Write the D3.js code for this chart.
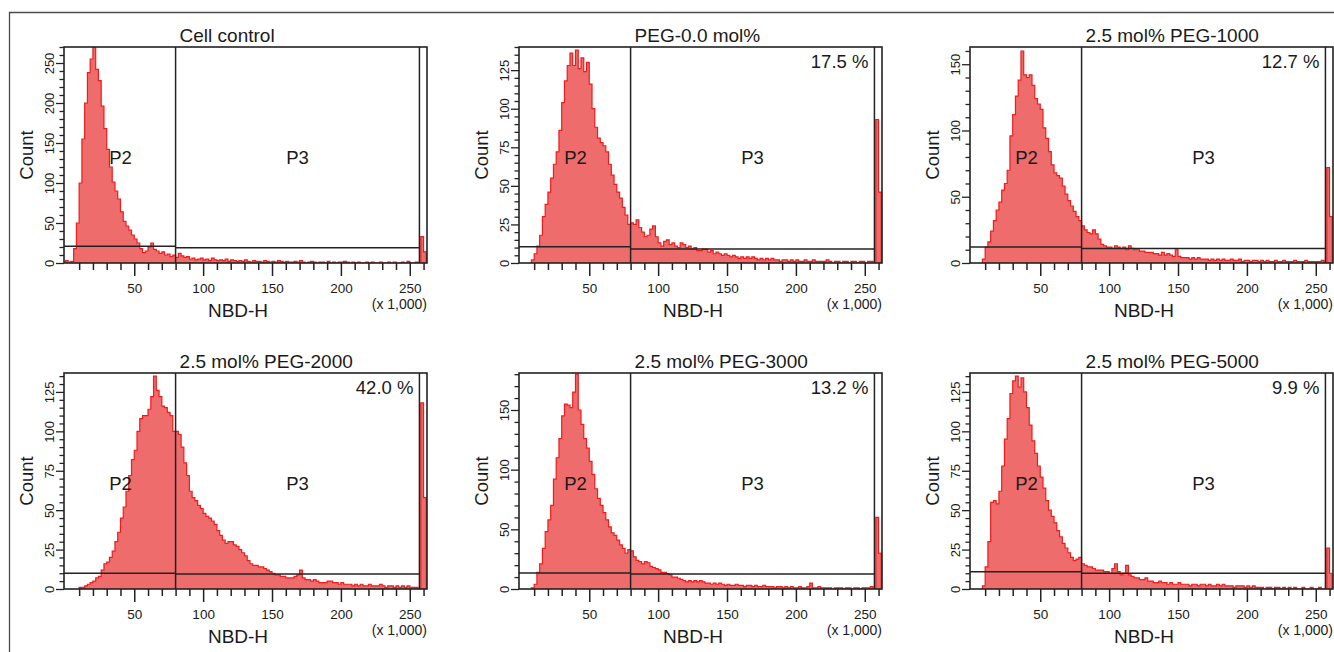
<!DOCTYPE html>
<html>
<head>
<meta charset="utf-8">
<script src="https://cdn.jsdelivr.net/npm/d3@7"></script>
<style>
body { margin: 0; background: #fff; }
text { font-family: "Liberation Sans", Arial, sans-serif; fill: #1a1a1a; }
</style>
</head>
<body>
<div class="chart"></div>
<script>
const width = 1334;
const height = 652;
const boxW = 363;
const boxH = 216;
const colX = [64, 519, 970];
const rowY = [47, 373];

const titles = ['Cell control', 'PEG-0.0 mol%', '2.5 mol% PEG-1000', '2.5 mol% PEG-2000', '2.5 mol% PEG-3000', '2.5 mol% PEG-5000'];
const p3Percent = ['', '17.5 %', '12.7 %', '42.0 %', '13.2 %', '9.9 %'];
const yMax = [270, 140, 163, 137, 181, 137];
const yMinor = [10, 5, 10, 5, 10, 5];
const yMajor = [50, 25, 50, 25, 50, 25];
const gateP2Level = [21, 10.5, 12, 10, 13.5, 11];
const gateP3Level = [19, 9, 11, 9.5, 12.5, 10];
const gateSplit = 80;   // x 1,000
const gateEnd = 257;
const xTicks = d3.range(10, 261, 10);
const binWidth = 2;     // x 1,000 per bin

// counts per 2k bin, NBD-H 0 .. 262k
const cellControl = [
    3, 1, 2, 18, 50, 100, 155, 200, 238, 255,
    270, 242, 228, 196, 168, 142, 120, 101, 90, 80,
    64, 52, 46, 41, 35, 30, 25, 18, 13, 15,
    20, 25, 17, 15, 12, 14, 10, 11, 8, 10,
    7, 12, 9, 7, 8, 5, 6, 4, 5, 6,
    4, 5, 3, 6, 4, 3, 4, 3, 5, 2,
    4, 3, 2, 3, 2, 4, 2, 1, 3, 2,
    2, 1, 3, 2, 1, 2, 1, 3, 2, 1,
    2, 1, 1, 2, 1, 3, 1, 0, 1, 2,
    1, 0, 1, 1, 0, 2, 0, 1, 0, 1,
    1, 2, 1, 0, 1, 0, 1, 0, 0, 1,
    0, 1, 0, 0, 1, 0, 0, 1, 0, 1,
    0, 0, 1, 0, 2, 0, 0, 1, 0, 33,
    14];
const peg00 = [
    0, 0, 0, 0, 2, 6, 11, 18, 30, 38,
    46, 55, 64, 72, 86, 104, 118, 128, 136, 128,
    138, 126, 133, 124, 130, 116, 100, 88, 81, 78,
    76, 72, 64, 57, 51, 46, 42, 36, 31, 25,
    26, 25, 28, 23, 20, 17, 18, 22, 24, 17,
    13, 11, 14, 15, 12, 13, 11, 10, 13, 12,
    10, 11, 9, 10, 8, 8, 9, 9, 7, 8,
    6, 7, 6, 5, 6, 5, 4, 5, 4, 3,
    4, 3, 4, 3, 4, 3, 2, 3, 2, 3,
    2, 3, 2, 2, 1, 2, 2, 1, 2, 1,
    2, 1, 1, 2, 1, 1, 2, 1, 1, 1,
    1, 2, 1, 0, 1, 1, 0, 1, 1, 0,
    1, 1, 0, 1, 1, 0, 1, 1, 0, 93,
    46];
const peg1000 = [
    0, 0, 0, 0, 3, 12, 16, 24, 32, 40,
    46, 55, 60, 70, 96, 112, 126, 138, 160, 142,
    140, 142, 134, 124, 120, 116, 102, 94, 84, 74,
    68, 66, 64, 58, 52, 47, 43, 39, 35, 32,
    28, 25, 23, 22, 25, 22, 18, 14, 13, 12,
    12, 11, 13, 12, 11, 12, 10, 13, 11, 10,
    10, 9, 9, 8, 8, 8, 7, 7, 6, 8,
    6, 7, 6, 5, 10, 5, 4, 4, 4, 3,
    4, 3, 4, 3, 3, 3, 2, 3, 2, 3,
    2, 3, 2, 2, 3, 2, 2, 3, 1, 2,
    2, 1, 2, 2, 1, 2, 1, 2, 1, 1,
    2, 1, 1, 2, 1, 1, 1, 2, 1, 1,
    1, 2, 1, 1, 1, 1, 1, 2, 0, 72,
    35];
const peg2000 = [
    0, 0, 0, 0, 0, 1, 1, 2, 3, 4,
    5, 7, 8, 12, 16, 17, 20, 24, 30, 36,
    45, 52, 62, 72, 82, 88, 100, 108, 110, 110,
    114, 122, 135, 126, 122, 116, 115, 112, 110, 100,
    100, 98, 90, 80, 72, 62, 58, 56, 53, 51,
    48, 46, 45, 43, 41, 37, 34, 31, 29, 30,
    30, 28, 27, 25, 23, 21, 18, 16, 15, 15,
    14, 14, 13, 12, 11, 10, 9, 9, 8, 8,
    7, 7, 7, 8, 9, 12, 7, 6, 6, 5,
    6, 5, 4, 4, 4, 5, 5, 4, 4, 3,
    4, 3, 3, 3, 2, 3, 2, 3, 2, 2,
    3, 2, 2, 2, 3, 2, 1, 2, 2, 1,
    2, 1, 2, 1, 2, 1, 1, 1, 0, 118,
    58];
const peg3000 = [
    0, 0, 0, 0, 1, 4, 14, 21, 34, 48,
    58, 70, 92, 110, 126, 145, 155, 154, 152, 165,
    180, 150, 138, 126, 118, 107, 96, 84, 76, 70,
    64, 58, 52, 47, 45, 41, 37, 34, 30, 33,
    32, 27, 24, 23, 21, 23, 22, 19, 18, 17,
    16, 14, 14, 13, 12, 10, 10, 9, 8, 7,
    6, 7, 6, 7, 6, 7, 6, 5, 5, 4,
    5, 4, 5, 4, 3, 4, 3, 3, 4, 3,
    3, 2, 3, 3, 2, 3, 2, 2, 3, 2,
    2, 2, 1, 2, 2, 1, 2, 1, 2, 1,
    1, 2, 1, 1, 2, 5, 1, 1, 2, 1,
    1, 1, 1, 0, 1, 1, 1, 0, 1, 1,
    0, 1, 1, 0, 1, 1, 1, 2, 0, 60,
    30];
const peg5000 = [
    0, 0, 0, 0, 2, 14, 30, 55, 56, 54,
    62, 78, 95, 108, 124, 132, 135, 128, 134, 125,
    115, 104, 94, 86, 78, 71, 64, 56, 50, 46,
    42, 37, 33, 29, 26, 23, 20, 18, 19, 20,
    16, 15, 14, 14, 13, 12, 12, 12, 11, 11,
    10, 13, 16, 11, 9, 10, 15, 9, 8, 7,
    7, 6, 6, 7, 5, 5, 4, 4, 5, 4,
    4, 3, 4, 3, 3, 4, 3, 3, 3, 2,
    3, 3, 2, 3, 3, 2, 3, 2, 2, 3,
    2, 3, 2, 2, 2, 1, 2, 2, 2, 1,
    2, 1, 2, 1, 1, 1, 0, 1, 1, 0,
    1, 1, 0, 1, 0, 1, 0, 1, 0, 0,
    1, 0, 0, 1, 0, 0, 1, 0, 0, 26,
    10];
const counts = [cellControl, peg00, peg1000, peg2000, peg3000, peg5000];

const svg = d3.select('.chart').append('svg')
    .attr('width', width)
    .attr('height', height);

// outer frame of the figure
svg.append('path')
    .attr('d', 'M9.5,652V12.5H1334')
    .attr('fill', 'none')
    .attr('stroke', '#4a4a4a')
    .attr('stroke-width', 1.3);

titles.forEach((title, i) => {
    const g = svg.append('g')
        .attr('transform', `translate(${colX[i % 3]}, ${rowY[Math.floor(i / 3)]})`);
    const x = d3.scaleLinear().domain([-1, 262.5]).range([0, boxW]);
    const y = d3.scaleLinear().domain([0, yMax[i]]).range([boxH, 0]);

    g.append('clipPath').attr('id', 'clip' + i)
        .append('rect').attr('width', boxW).attr('height', boxH);

    /* histogram */
    const data = counts[i];
    const first = data.findIndex(v => v > 0);
    const pts = [[first * binWidth, 0]]
        .concat(data.slice(first).map((v, j) => [(first + j) * binWidth, v]));
    pts.push([data.length * binWidth, 0]);

    const area = d3.area()
        .x(d => x(d[0]))
        .y0(y(0))
        .y1(d => y(d[1]))
        .curve(d3.curveStepAfter);
    const line = d3.line()
        .x(d => x(d[0]))
        .y(d => y(d[1]))
        .curve(d3.curveStepAfter);
    const hist = g.append('g').attr('clip-path', `url(#clip${i})`);
    hist.append('path').datum(pts)
        .attr('d', area)
        .attr('fill', '#ee6c6c');
    hist.append('path').datum(pts)
        .attr('d', line)
        .attr('fill', 'none')
        .attr('stroke', '#f01c1c')
        .attr('stroke-width', 1.2);

    /* x axis */
    const xAxis = g.append('g')
        .attr('transform', `translate(0, ${boxH})`)
        .call(d3.axisBottom(x).tickValues(xTicks).tickFormat(d => d % 50 === 0 ? d : ''))
        .attr('font-size', 13.5);
    xAxis.select('.domain').remove();
    xAxis.selectAll('.tick line')
        .attr('y2', d => d % 50 === 0 ? 13 : 7)
        .attr('stroke', '#222')
        .attr('stroke-width', 1.5);
    xAxis.selectAll('.tick text')
        .attr('y', 30)
        .attr('dy', null);

    /* y axis */
    const yAxis = g.append('g')
        .call(d3.axisLeft(y)
            .tickValues(d3.range(0, yMax[i] + 0.5, yMinor[i]))
            .tickFormat(d => d % yMajor[i] === 0 ? d : ''))
        .attr('font-size', 13);
    yAxis.select('.domain').remove();
    yAxis.selectAll('.tick line')
        .attr('x2', d => d % yMajor[i] === 0 ? -8 : -4.5)
        .attr('stroke', '#222')
        .attr('stroke-width', 1.3);
    yAxis.selectAll('.tick text')
        .attr('x', 0)
        .attr('dy', null)
        .attr('text-anchor', 'middle')
        .attr('transform', 'translate(-10.5,0) rotate(-90)');

    /* plot frame and gates */
    g.append('rect')
        .attr('width', boxW)
        .attr('height', boxH)
        .attr('fill', 'none')
        .attr('stroke', '#222')
        .attr('stroke-width', 1.6);
    [gateSplit, gateEnd].forEach(v => {
        g.append('line')
            .attr('x1', x(v)).attr('x2', x(v))
            .attr('y1', 0).attr('y2', boxH)
            .attr('stroke', '#222')
            .attr('stroke-width', 1.5);
    });
    g.append('line')
        .attr('x1', 0).attr('x2', x(gateSplit))
        .attr('y1', y(gateP2Level[i])).attr('y2', y(gateP2Level[i]))
        .attr('stroke', '#222').attr('stroke-width', 1.5);
    g.append('line')
        .attr('x1', x(gateSplit)).attr('x2', x(gateEnd))
        .attr('y1', y(gateP3Level[i])).attr('y2', y(gateP3Level[i]))
        .attr('stroke', '#222').attr('stroke-width', 1.5);

    /* texts */
    g.append('text')
        .attr('x', x(gateSplit) + 4)
        .attr('y', -5.5)
        .attr('font-size', 19)
        .text(title);
    g.append('text')
        .attr('x', x(gateSplit / 2))
        .attr('y', 116.5)
        .attr('text-anchor', 'middle')
        .attr('font-size', 18.5)
        .text('P2');
    g.append('text')
        .attr('x', x((gateSplit + gateEnd) / 2))
        .attr('y', 116.5)
        .attr('text-anchor', 'middle')
        .attr('font-size', 18.5)
        .text('P3');
    g.append('text')
        .attr('x', x(gateEnd) - 6)
        .attr('y', 21)
        .attr('text-anchor', 'end')
        .attr('font-size', 18.5)
        .text(p3Percent[i]);
    g.append('text')
        .attr('transform', `translate(-31, ${boxH / 2}) rotate(-90)`)
        .attr('text-anchor', 'middle')
        .attr('font-size', 18.5)
        .text('Count');
    g.append('text')
        .attr('x', 174)
        .attr('y', boxH + 54)
        .attr('text-anchor', 'middle')
        .attr('font-size', 19)
        .text('NBD-H');
    g.append('text')
        .attr('x', boxW)
        .attr('y', boxH + 46)
        .attr('text-anchor', 'end')
        .attr('font-size', 14)
        .text('(x 1,000)');
});
</script>
</body>
</html>
